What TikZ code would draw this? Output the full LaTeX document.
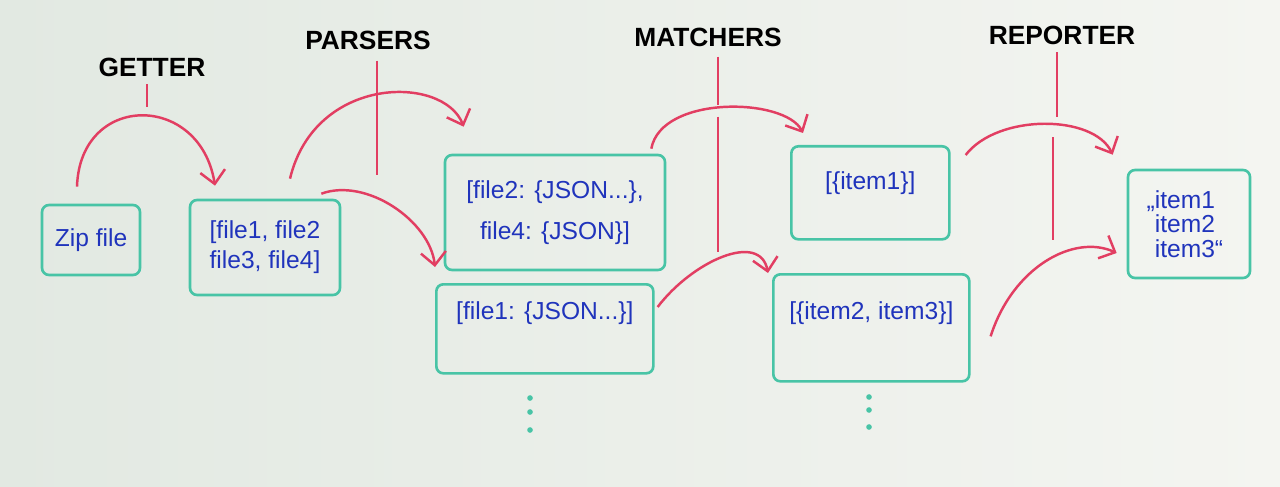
\documentclass[tikz,border=0pt]{standalone}
\usepackage{fontspec}
\setmainfont{Liberation Sans}
\usetikzlibrary{arrows.meta}
\definecolor{boardL}{RGB}{226,233,226}
\definecolor{boardR}{RGB}{244,245,241}
\definecolor{penred}{RGB}{226,62,98}
\definecolor{penteal}{RGB}{72,196,166}
\definecolor{penblue}{RGB}{32,52,188}
\begin{document}
\begin{tikzpicture}[>={Straight Barb[length=2.6mm,width=5mm]},
  stage/.style={font=\fontsize{15}{18}\selectfont\bfseries, text=black},
  box/.style={draw=penteal, line width=1.5pt, rounded corners=4pt, inner sep=0pt, align=center, text=penblue, font=\fontsize{14}{17}\selectfont},
  flow/.style={->, penred, line width=1.4pt},
  tick/.style={penred, line width=1.4pt}]

\shade[left color=boardL, right color=boardR](0,0) rectangle (25.6,9.72);
\useasboundingbox (0,0) rectangle (25.6,9.72);

\node(getter) at (3.04,8.38)[stage]{GETTER};
\node(parsers) at (7.36,8.92)[stage]{PARSERS};
\node(matchers) at (14.16,8.98)[stage]{MATCHERS};
\node(reporter) at (21.24,9.02)[stage]{REPORTER};

\draw[tick]([shift={(-0.1,-0.03)}]getter.south)--++(0,-0.46);
\draw[tick]([shift={(0.18,-0.1)}]parsers.south)--++(0,-2.28);
\draw[tick]([shift={(0.2,-0.08)}]matchers.south)--++(0,-0.96);
\draw[tick]([shift={(0.2,-1.28)}]matchers.south)--++(0,-2.7);
\draw[tick]([shift={(-0.1,-0.03)}]reporter.south)--++(0,-1.3);
\draw[tick]([shift={(-0.18,-1.73)}]reporter.south)--++(0,-2.06);

\node(zip) at (1.82,4.92)[box, minimum width=1.96cm, minimum height=1.4cm]{Zip file};
\node(files) at (5.30,4.77)[box, minimum width=3cm, minimum height=1.9cm]{[file1, file2\\ file3, file4]};

\node(jsonA) at (11.10,5.47)[box, minimum width=4.4cm, minimum height=2.3cm]{[file2: \{JSON...\},\\[6pt] file4: \{JSON\}]};
\node(jsonB) at (8.70,4.06)[box, anchor=north west, minimum width=4.34cm, text height=0.7cm, text depth=1.08cm]{[file1: \{JSON...\}]};

\node(itemsA) at (15.80,6.82)[box, anchor=north west, minimum width=3.16cm, text height=0.86cm, text depth=1cm]{[\{item1\}]};
\node(itemsB) at (15.44,4.26)[box, anchor=north west, minimum width=3.92cm, text height=0.9cm, text depth=1.24cm]{[\{item2, item3\}]};

\node(report) at (23.78,5.24)[box, align=left, minimum width=2.44cm, minimum height=2.16cm, font=\fontsize{14}{14}\selectfont]{\llap{„}item1\\item2\\item3“};

\draw[flow]([shift={(-0.28,0.34)}]zip.north) .. controls +(0.06,1.89) and +(-0.3,1.87) .. ([shift={(-1.0,0.26)}]files.north);
\draw[flow]([shift={(0.5,0.4)}]files.north) .. controls +(0.5,2.08) and +(-0.4,1.04) .. ([shift={(0.4,0.54)}]jsonA.north west);
\draw[flow]([shift={(-0.4,0.1)}]files.north east) .. controls +(0.9,0.33) and +(-0.1,0.92) .. ([shift={(0,0.32)}]jsonB.north west);
\draw[flow]([shift={(-0.3,0.1)}]jsonA.north east) .. controls +(0.2,1.08) and +(-0.36,0.71) .. ([shift={(0.26,0.24)}]itemsA.north west);
\draw[flow]([shift={(0.06,-0.48)}]jsonB.north east) .. controls +(0.7,0.92) and +(-0.16,0.84) .. ([shift={(-0.08,0)}]itemsB.north west);
\draw[flow]([shift={(0.3,-0.2)}]itemsA.north east) .. controls +(0.64,0.83) and +(-0.38,0.81) .. ([shift={(-0.28,0.28)}]report.north west);
\draw[flow]([shift={(0.4,-0.17)}]itemsB.east) .. controls +(0.44,1.38) and +(-0.86,0.39) .. ([shift={(-0.2,-0.58)}]report.west);

\foreach \y in {1.76,1.48,1.12} \fill[penteal](10.6,\y) circle (1.6pt);
\foreach \y in {1.78,1.52,1.18} \fill[penteal](17.38,\y) circle (1.6pt);

\end{tikzpicture}
\end{document}
